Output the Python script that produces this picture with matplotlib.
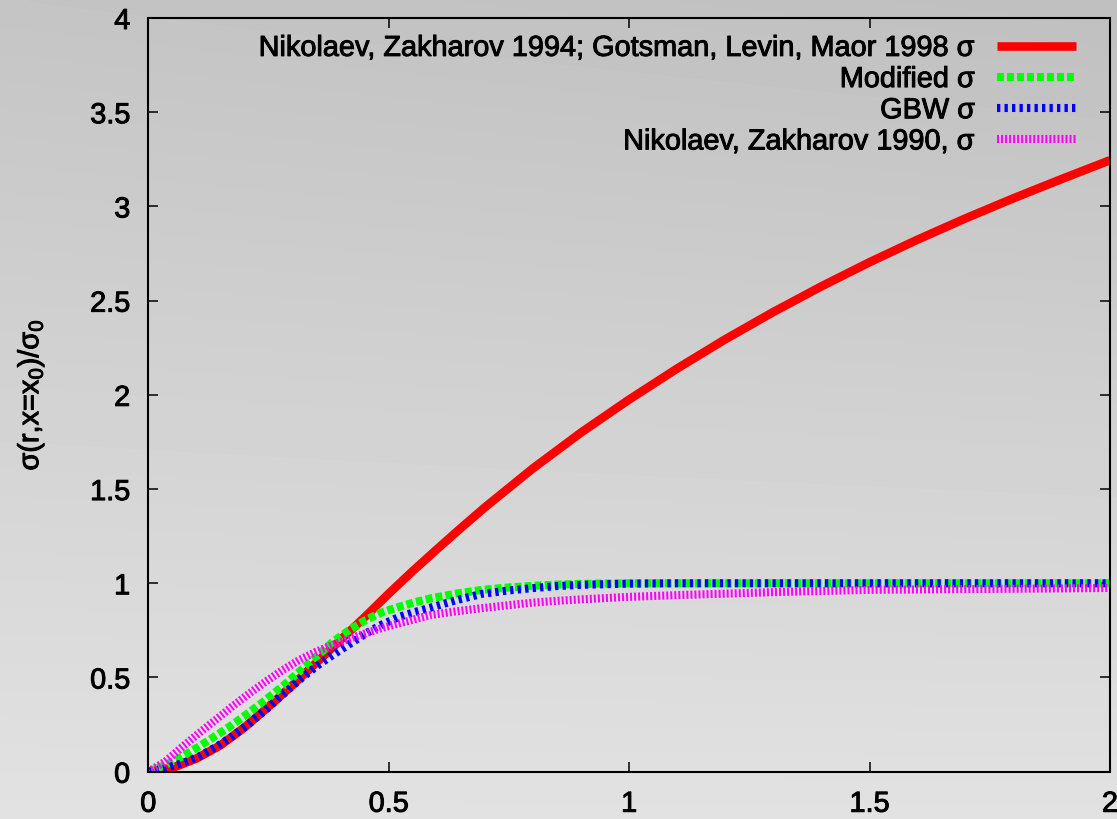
import numpy as np
import matplotlib
matplotlib.use("Agg")
import matplotlib.pyplot as plt
import matplotlib.patheffects as pe

plt.rcParams["font.family"] = ["Liberation Sans", "DejaVu Sans"]
plt.rcParams["mathtext.fontset"] = "custom"
plt.rcParams["mathtext.rm"] = "Liberation Sans"
plt.rcParams["mathtext.it"] = "Liberation Sans"
plt.rcParams["lines.scale_dashes"] = False

# Dipole cross section sigma(r, x=x0)/sigma0 versus r
r_nz94 = [0.0, 0.05, 0.1, 0.15, 0.2, 0.25, 0.3, 0.35, 0.4, 0.45, 0.5, 0.55, 0.6, 0.65,
          0.7, 0.8, 0.9, 1.0, 1.1, 1.2, 1.3, 1.4, 1.5, 1.6, 1.7, 1.8, 1.9, 2.0]
s_nz94 = [0.0, 0.02, 0.07, 0.14, 0.235, 0.345, 0.46, 0.58, 0.7, 0.82, 0.945, 1.065, 1.18, 1.293,
          1.403, 1.61, 1.8, 1.975, 2.14, 2.295, 2.44, 2.576, 2.704, 2.824, 2.937, 3.044, 3.146, 3.245]

r_mod = [0.0, 0.035, 0.07, 0.105, 0.14, 0.174, 0.21, 0.244, 0.28, 0.314, 0.35, 0.384,
         0.42, 0.453, 0.485, 0.523, 0.555, 0.589, 0.64, 0.694, 0.75, 0.798, 0.85, 0.903,
         1.0, 1.1, 1.5, 2.0]
s_mod = [0.0, 0.035, 0.08, 0.133, 0.19, 0.248, 0.315, 0.381, 0.455, 0.531, 0.612, 0.69,
         0.755, 0.806, 0.845, 0.876, 0.9, 0.921, 0.945, 0.965, 0.978, 0.986, 0.993, 0.997,
         1.0, 1.0, 1.0, 1.0]

r_gbw = [0.0, 0.035, 0.07, 0.105, 0.14, 0.174, 0.21, 0.244, 0.28, 0.314, 0.35, 0.384,
         0.42, 0.453, 0.485, 0.523, 0.555, 0.589, 0.64, 0.694, 0.75, 0.798, 0.85, 0.903,
         1.0, 1.1, 1.5, 2.0]
s_gbw = [0.0, 0.018, 0.045, 0.08, 0.13, 0.186, 0.255, 0.328, 0.41, 0.487, 0.56, 0.62,
         0.68, 0.735, 0.78, 0.823, 0.848, 0.872, 0.91, 0.944, 0.962, 0.974, 0.985, 0.992,
         0.998, 1.0, 1.0, 1.0]

r_nz90 = [0.0, 0.035, 0.07, 0.105, 0.14, 0.174, 0.21, 0.244, 0.28, 0.314, 0.349, 0.384,
          0.42, 0.453, 0.485, 0.523, 0.555, 0.589, 0.64, 0.694, 0.75, 0.798, 0.85, 0.903,
          1.0, 1.112, 1.3, 1.5, 1.75, 2.0]
s_nz90 = [0.0, 0.053, 0.13, 0.204, 0.275, 0.345, 0.415, 0.478, 0.54, 0.593, 0.637, 0.673,
          0.707, 0.735, 0.762, 0.788, 0.81, 0.832, 0.851, 0.868, 0.884, 0.897, 0.907, 0.915,
          0.928, 0.938, 0.953, 0.965, 0.97, 0.975]

labels = [
    "Nikolaev, Zakharov 1994; Gotsman, Levin, Maor 1998 σ",
    "Modified σ",
    "GBW σ",
    "Nikolaev, Zakharov 1990, σ",
]

x_ticks = [0, 0.5, 1, 1.5, 2]
x_ticklabels = ["0", "0.5", "1", "1.5", "2"]
y_ticks = [0, 0.5, 1, 1.5, 2, 2.5, 3, 3.5, 4]
y_ticklabels = ["0", "0.5", "1", "1.5", "2", "2.5", "3", "3.5", "4"]

W, H = 1117, 819
fig = plt.figure(figsize=(W / 100, H / 100), dpi=100)

# grey gradient backdrop
bg = fig.add_axes([0, 0, 1, 1], zorder=-10)
yy, xx = np.mgrid[0:1:200j, 0:1:200j]
shade = 0.77 + 0.115 * yy - 0.02 * xx * (1 - yy)
bg.imshow(shade, cmap="gray", vmin=0, vmax=1, aspect="auto",
          extent=[0, 1, 0, 1], origin="upper", interpolation="bilinear")
bg.set_axis_off()

ax = fig.add_axes([148.3 / W, (H - 771.7) / H, (1110 - 148.3) / W, (771.7 - 18) / H])
ax.set_facecolor("none")

lw = 5.8
ax.plot(r_nz94, s_nz94, color="#ff0000", lw=6.2, solid_capstyle="butt",
        solid_joinstyle="round", label=labels[0])
ax.plot(r_mod, s_mod, color="#00ff00", lw=lw, dashes=(5.0, 2.2), dash_capstyle="butt",
        label=labels[1])
ax.plot(r_gbw, s_gbw, color="#0000ff", lw=lw, dashes=(2.4, 3.0), dash_capstyle="butt",
        label=labels[2])
ax.plot(r_nz90, s_nz90, color="#ff00ff", lw=lw, dashes=(1.45, 1.45), dash_capstyle="butt",
        label=labels[3])

ax.set_xlim(0, 2)
ax.set_ylim(0, 4)
ax.set_xticks(x_ticks)
ax.set_xticklabels(x_ticklabels)
ax.set_yticks(y_ticks)
ax.set_yticklabels(y_ticklabels)

fs = 20.8
ax.tick_params(direction="in", length=7, width=1.1, top=True, right=True,
               labelsize=fs, colors="black")
ax.tick_params(axis="y", pad=13)
ax.tick_params(axis="x", pad=13)
for sp in ax.spines.values():
    sp.set_linewidth(1.5)
    sp.set_color("black")

ax.set_ylabel("σ(r,x=x$_0$)/σ$_0$", fontsize=fs)
ax.yaxis.set_label_coords(-0.106, 0.5)

leg = ax.legend(loc="upper right", frameon=False, markerfirst=False, fontsize=fs,
                handlelength=2.75, handletextpad=0.75, labelspacing=0.11,
                borderaxespad=0.0, borderpad=0.55, bbox_to_anchor=(1 - 18 / 962, 1.0))

# slightly heavier glyphs
stroke = [pe.withStroke(linewidth=0.7, foreground="black")]
for t in ax.get_xticklabels() + ax.get_yticklabels() + leg.get_texts() + [ax.yaxis.label]:
    t.set_path_effects(stroke)

fig.savefig("out.png", dpi=100)
